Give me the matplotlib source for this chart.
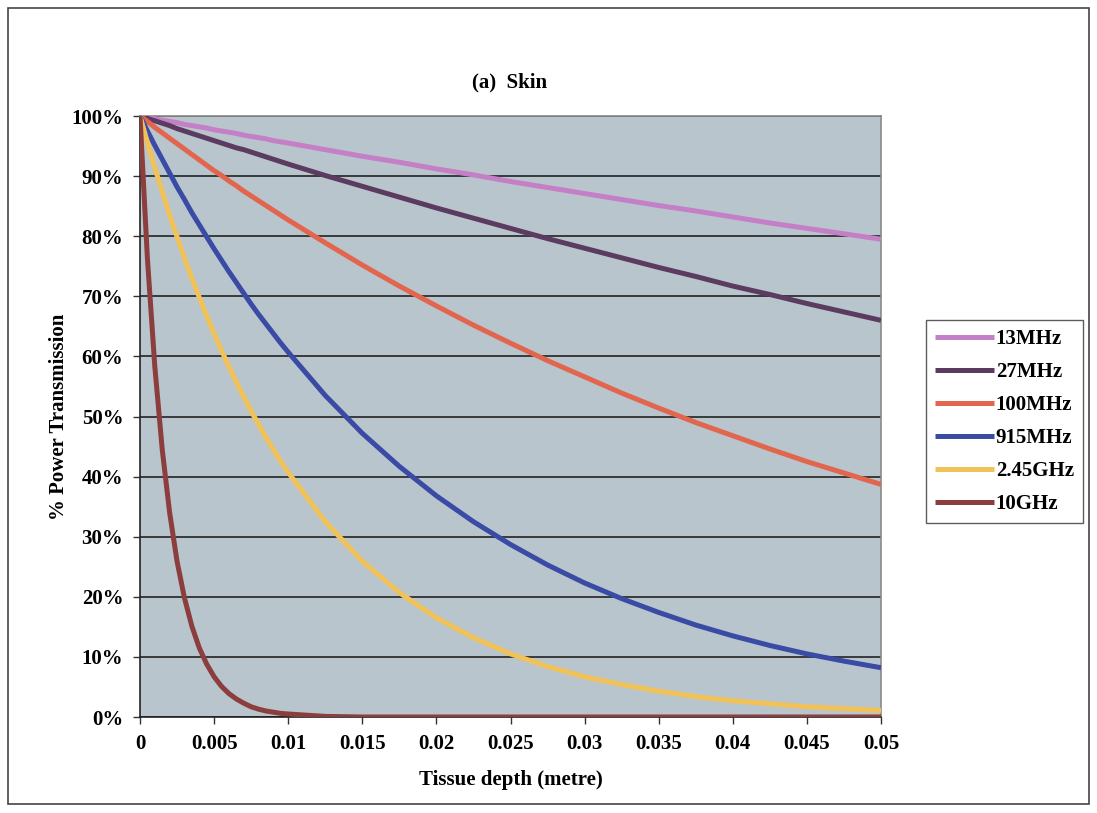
import matplotlib.pyplot as plt
from matplotlib.patches import Rectangle
from matplotlib.ticker import PercentFormatter

# tissue depth in metres
depth = [0, 0.0005, 0.001, 0.0015, 0.002, 0.0025, 0.003, 0.0035, 0.004, 0.0045,
         0.005, 0.0055, 0.006, 0.0065, 0.007, 0.0075, 0.008, 0.0085, 0.009, 0.0095,
         0.01, 0.0125, 0.015, 0.0175, 0.02, 0.0225, 0.025, 0.0275, 0.03, 0.0325,
         0.035, 0.0375, 0.04, 0.0425, 0.045, 0.0475, 0.05]

# % power transmitted at each depth
p_13mhz = [100, 99.8, 99.5, 99.3, 99.1, 98.9, 98.6, 98.4, 98.2, 98.0,
           97.7, 97.5, 97.3, 97.1, 96.8, 96.6, 96.4, 96.2, 95.9, 95.7,
           95.5, 94.4, 93.3, 92.3, 91.2, 90.2, 89.1, 88.1, 87.1, 86.1,
           85.1, 84.2, 83.2, 82.2, 81.3, 80.4, 79.5]
p_27mhz = [100, 99.6, 99.2, 98.8, 98.4, 97.9, 97.5, 97.1, 96.7, 96.3,
           95.9, 95.5, 95.1, 94.7, 94.4, 94.0, 93.6, 93.2, 92.8, 92.4,
           92.0, 90.1, 88.3, 86.5, 84.7, 83.0, 81.3, 79.6, 78.0, 76.4,
           74.8, 73.3, 71.7, 70.3, 68.8, 67.4, 66.0]
p_100mhz = [100, 99.1, 98.1, 97.2, 96.3, 95.4, 94.5, 93.6, 92.7, 91.8,
            90.9, 90.1, 89.2, 88.4, 87.5, 86.7, 85.9, 85.1, 84.3, 83.5,
            82.7, 78.9, 75.2, 71.7, 68.4, 65.2, 62.2, 59.3, 56.6, 53.9,
            51.4, 49.0, 46.8, 44.6, 42.5, 40.6, 38.7]
p_915mhz = [100, 97.5, 95.1, 92.8, 90.5, 88.2, 86.1, 83.9, 81.9, 79.9,
            77.9, 76.0, 74.1, 72.3, 70.5, 68.7, 67.0, 65.4, 63.8, 62.2,
            60.7, 53.5, 47.2, 41.7, 36.8, 32.5, 28.7, 25.3, 22.3, 19.7,
            17.4, 15.3, 13.5, 11.9, 10.5, 9.3, 8.2]
p_245ghz = [100, 95.6, 91.4, 87.4, 83.5, 79.9, 76.3, 73.0, 69.8, 66.7,
            63.8, 61.0, 58.3, 55.7, 53.3, 50.9, 48.7, 46.5, 44.5, 42.5,
            40.7, 32.5, 25.9, 20.7, 16.5, 13.2, 10.5, 8.4, 6.7, 5.4,
            4.3, 3.4, 2.7, 2.2, 1.7, 1.4, 1.1]
p_10ghz = [100, 76.3, 58.3, 44.5, 34.0, 25.9, 19.8, 15.1, 11.5, 8.8,
           6.7, 5.1, 3.9, 3.0, 2.3, 1.7, 1.3, 1.0, 0.8, 0.6,
           0.5, 0.1, 0, 0, 0, 0, 0, 0, 0, 0,
           0, 0, 0, 0, 0, 0, 0]

labels = ['13MHz', '27MHz', '100MHz', '915MHz', '2.45GHz', '10GHz']
colors = ['#c47fc6', '#5b3b5f', '#e2654d', '#3a4ba6', '#f0c257', '#8c3d3d']
series = [p_13mhz, p_27mhz, p_100mhz, p_915mhz, p_245ghz, p_10ghz]

xticks = [0, 0.005, 0.01, 0.015, 0.02, 0.025, 0.03, 0.035, 0.04, 0.045, 0.05]
xticklabels = ['0', '0.005', '0.01', '0.015', '0.02', '0.025', '0.03',
               '0.035', '0.04', '0.045', '0.05']

plt.rcParams['font.family'] = ['Liberation Serif', 'DejaVu Serif']
plt.rcParams['font.weight'] = 'bold'
FS = 15

W, H = 1097, 813
fig = plt.figure(figsize=(W / 100, H / 100), dpi=100)
fig.patch.set_facecolor('white')
ax = fig.add_axes([140 / W, 1 - 717 / H, 741 / W, 601 / H])
ax.set_facecolor('#b9c5cd')

for y, lab, c in zip(series, labels, colors):
    ax.plot(depth, y, color=c, lw=3.6, label=lab, solid_capstyle='butt', zorder=3)

ax.set_xlim(0, 0.05)
ax.set_ylim(0, 100)
ax.set_yticks(range(0, 101, 10))
ax.yaxis.set_major_formatter(PercentFormatter(decimals=0))
ax.set_xticks(xticks)
ax.set_xticklabels(xticklabels)
ax.grid(axis='y', color='#222222', lw=1.2, zorder=1)
ax.set_axisbelow(True)

ax.tick_params(axis='both', direction='out', length=5, width=1, labelsize=FS, color='#333333')
ax.tick_params(axis='x', pad=7)
ax.tick_params(axis='y', pad=7)
for lbl in ax.get_xticklabels() + ax.get_yticklabels():
    lbl.set_fontweight('bold')

ax.spines['left'].set_color('#222222')
ax.spines['bottom'].set_color('#222222')
ax.spines['top'].set_color('#8a8a8a')
ax.spines['right'].set_color('#8a8a8a')
for s in ax.spines.values():
    s.set_linewidth(1.2)

ax.set_xlabel('Tissue depth (metre)', fontsize=FS, fontweight='bold', labelpad=12)
ax.set_ylabel('% Power Transmission', fontsize=FS, fontweight='bold', labelpad=2)
fig.text(510 / W, 1 - 82 / H, '(a)  Skin', ha='center', va='center',
         fontsize=FS, fontweight='bold')

leg = fig.legend(loc='upper left', bbox_to_anchor=(926 / W, 1 - 320 / H),
                 frameon=True, fancybox=False, fontsize=FS, handlelength=2.8,
                 handletextpad=0.1, labelspacing=0.62, borderpad=0.45,
                 borderaxespad=0)
leg.get_frame().set_edgecolor('#333333')
leg.get_frame().set_linewidth(1)
for t in leg.get_texts():
    t.set_fontweight('bold')

# outer chart frame
fig.patches.append(Rectangle((8 / W, 1 - 804 / H), 1081 / W, 796 / H,
                             transform=fig.transFigure, fill=False,
                             edgecolor='#444444', lw=1.2))

fig.savefig('out.png', dpi=100)
